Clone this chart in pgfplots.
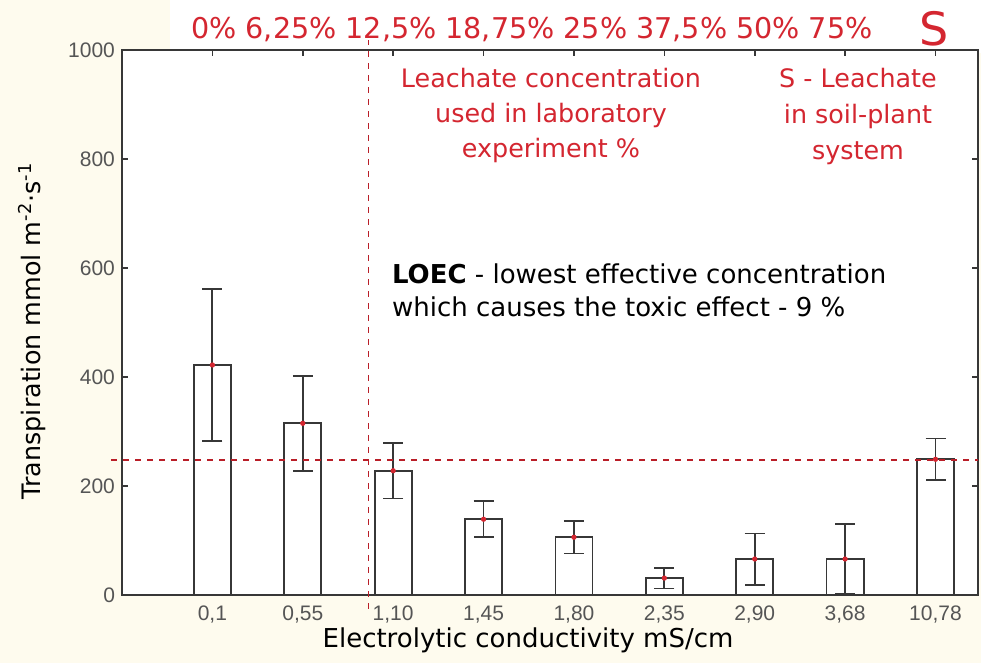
\documentclass[border=0pt]{standalone}
\usepackage{pgfplots}
\pgfplotsset{compat=1.18}
\usepackage{fontspec}
\setmainfont{Liberation Sans}
\newfontfamily\dv{DejaVu Sans}
\definecolor{ared}{RGB}{212,38,48}
\definecolor{dred}{RGB}{185,30,40}
\definecolor{bgc}{RGB}{254,251,238}
\definecolor{tickc}{RGB}{85,85,85}
\definecolor{barc}{RGB}{55,55,55}
\pgfplotstableread{
x y err
1 422 140
2 315 87
3 228 51
4 139 33
5 106 30
6 31 19
7 66 47
8 66 64
9 249 38
}\datatab
\begin{document}
\begin{tikzpicture}
\fill[bgc] (0pt,0pt) rectangle (490.5pt,331.5pt);
\fill[white] (85pt,305pt) rectangle (490.5pt,331.5pt);
\useasboundingbox (0pt,0pt) rectangle (490.5pt,331.5pt);
\begin{axis}[
  at={(61pt,34pt)}, anchor=south west,
  scale only axis, width=428pt, height=272.5pt,
  xmin=0, xmax=9.47, ymin=0, ymax=1000,
  xtick={1,...,9},
  xticklabels={0{,}1,0{,}55,1{,}10,1{,}45,1{,}80,2{,}35,2{,}90,3{,}68,10{,}78},
  ytick={0,200,...,1000},
  tick label style={font=\fontsize{10.5}{12}\selectfont, text=tickc},
  /pgf/number format/assume math mode=true,
  yticklabel style={/pgf/number format/set thousands separator={}},
  axis line style={barc, line width=0.9pt},
  tick style={barc, line width=0.8pt},
  major tick length=3pt,
  axis background/.style={fill=white},
  clip=false,
  xticklabel style={yshift=-2pt},
]
\addplot[ybar, bar width=0.41, draw=barc, fill=white, line width=0.9pt,
  error bars/.cd, y dir=both, y explicit,
  error bar style={barc, line width=0.9pt},
  error mark options={barc, line width=0.9pt, mark size=5pt, rotate=90}]
  table[x=x, y=y, y error=err]{\datatab};
\addplot[only marks, mark=*, mark size=1.1pt, color=ared] table[x=x,y=y]{\datatab};
\draw[dred, dashed, line width=0.7pt] (axis cs:-0.12,248) -- (axis cs:9.47,248);
\draw[dred, dashed, line width=0.7pt] (axis cs:2.73,-25) -- (axis cs:2.73,1018);
\end{axis}
\node[ared, font=\dv\fontsize{14.3}{16}\selectfont] at (266pt,316.5pt) {0\% 6,25\% 12,5\% 18,75\% 25\% 37,5\% 50\% 75\%};
\node[ared, font=\dv\fontsize{23}{26}\selectfont] at (467pt,317pt) {S};
\node[ared, font=\dv\fontsize{12.7}{17.5}\selectfont, align=center, anchor=north] at (275.5pt,301pt) {Leachate concentration\\used in laboratory\\experiment \%};
\node[ared, font=\dv\fontsize{12.7}{18}\selectfont, align=center, anchor=north] at (429pt,301pt) {S - Leachate\\in soil-plant\\system};
\node[black, font=\dv\fontsize{13}{16.5}\selectfont, align=left, anchor=north west] at (192.5pt,203pt) {\textbf{LOEC} - lowest effective concentration\\which causes the toxic effect - 9 \%};
\node[black, font=\dv\fontsize{13}{15}\selectfont] at (264pt,11.5pt) {Electrolytic conductivity mS/cm};
\node[black, font=\dv\fontsize{12.7}{14}\selectfont, rotate=90] at (16pt,166pt) {Transpiration mmol m\textsuperscript{-2}·s\textsuperscript{-1}};
\end{tikzpicture}
\end{document}
